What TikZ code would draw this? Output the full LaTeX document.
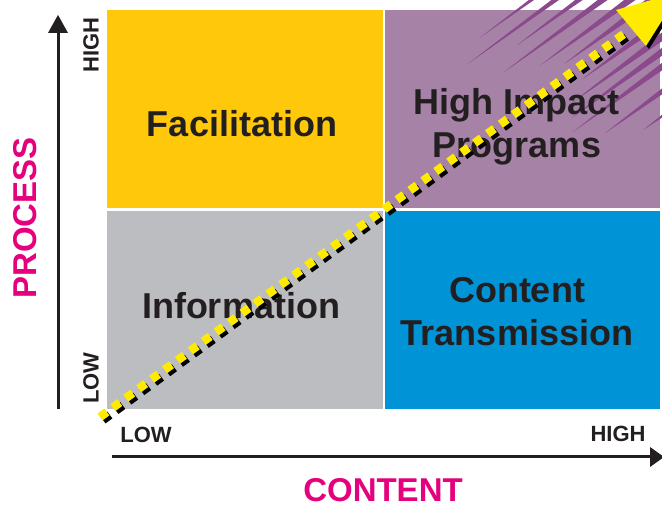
\documentclass[tikz,border=0pt]{standalone}
\usepackage{fontspec}
\setmainfont{Liberation Sans}
\usetikzlibrary{calc}
\definecolor{facil}{HTML}{FFC80B}
\definecolor{hip}{HTML}{A682A7}
\definecolor{infog}{HTML}{BCBDC0}
\definecolor{contb}{HTML}{0093D5}
\definecolor{streakc}{HTML}{8A4A8C}
\definecolor{mag}{HTML}{E5007E}
\definecolor{ink}{HTML}{231F20}
\definecolor{dotyel}{HTML}{FFEB00}
\tikzset{
  quad/.style={fill=#1, draw=none},
  qtext/.style={font=\bfseries\fontsize{36}{43}\selectfont, text=ink, align=center, inner sep=0pt},
  lvl/.style={font=\bfseries\fontsize{22}{22}\selectfont, text=ink, inner sep=0pt},
  axlab/.style={font=\bfseries\fontsize{33}{33}\selectfont, text=mag, inner sep=0pt},
  axis/.style={ink, line width=3pt},
  streak/.style={fill=streakc, draw=none},
  dotline/.style={line width=8.5pt, dash pattern=on 8.5pt off 7.5pt},
}
\begin{document}
\begin{tikzpicture}[x=1pt,y=-1pt]
\useasboundingbox (0,0) rectangle (662,510);
\fill[white] (0,0) rectangle (662,510);
\clip (0,0) rectangle (662,510);
% quadrants
\fill[quad=facil] (107,10) rectangle (383,208);
\fill[quad=hip] (385,10) rectangle (660,208);
\fill[quad=infog] (107,211) rectangle (383,409);
\fill[quad=contb] (385,211) rectangle (660,409);
% streaks
\coordinate (c) at (383,210);
\foreach \o/\t in {-82/180,-68/153,-54/205,-40/178,-24/212,-11/232,12/238,25/216,37/206,49/199,69/224,89/257}{
  \fill[streak] ($(c)+\t*(0.807,-0.59)+\o*(0.59,0.807)$)
    -- ($(c)+330*(0.807,-0.59)+{\o-3.6}*(0.59,0.807)$)
    -- ($(c)+460*(0.807,-0.59)+{\o-3.6}*(0.59,0.807)$)
    -- ($(c)+460*(0.807,-0.59)+{\o+3.6}*(0.59,0.807)$)
    -- ($(c)+330*(0.807,-0.59)+{\o+3.6}*(0.59,0.807)$) -- cycle;
}
% quadrant texts
\node[qtext] (fac) at (242,124) {Facilitation};
\node[qtext] (hip) at (517,127) {High Impact\\Programs};
\node[qtext] (inf) at (241,306) {Information};
\node[qtext] (ct) at (517,312) {Content\\Transmission};
% axes
\coordinate (vb) at (58,409);
\coordinate (vt) at (58,33);
\draw[axis] (vb) -- (vt);
\fill[ink] (48,33) -- (58,15) -- (68,33) -- cycle;
\coordinate (hl) at (112,457);
\coordinate (hr) at (650,457);
\draw[axis] (hl) -- (hr);
\fill[ink] (650,447) -- (664,457) -- (650,467) -- cycle;
% level labels
\node[lvl, rotate=90] (vhigh) at (91,45) {HIGH};
\node[lvl, rotate=90] (vlow) at (91,378) {LOW};
\node[lvl] (hlow) at (146,435) {LOW};
\node[lvl] (hhigh) at (618,434) {HIGH};
% axis titles
\node[axlab, rotate=90] (proc) at (25,218) {PROCESS};
\node[axlab] (cont) at (383,490) {CONTENT};
% dotted arrow
\coordinate (s) at (100,417);
\coordinate (e) at (628,31);
\coordinate (s2) at (103,420);
\coordinate (e2) at (631,34);
\draw[black, dotline] (s2) -- (e2);
\fill[black] (619,13) -- (683,-5) -- (649,49) -- cycle;
\draw[dotyel, dotline] (s) -- (e);
\fill[dotyel] (616,10) -- (680,-8) -- (646,46) -- cycle;
\end{tikzpicture}
\end{document}
